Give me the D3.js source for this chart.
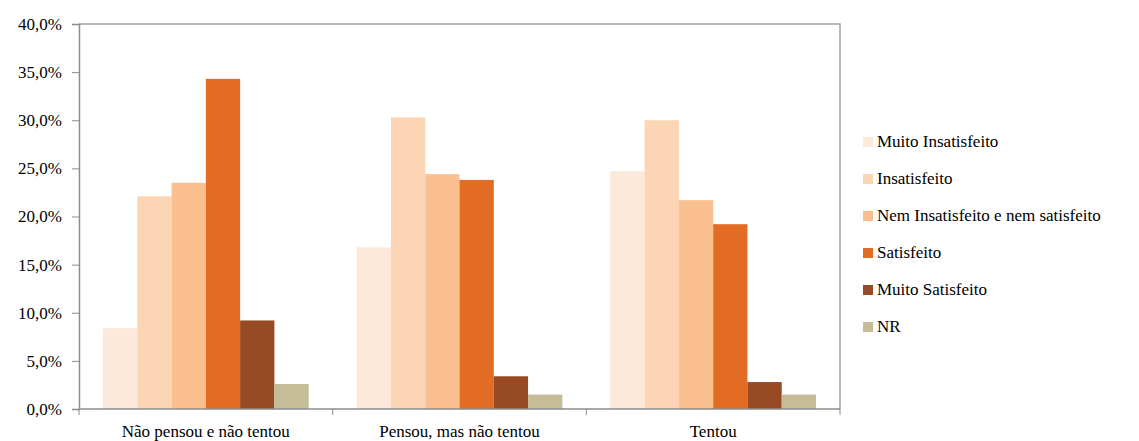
<!DOCTYPE html>
<html>
<head>
<meta charset="utf-8">
<script src="https://cdn.jsdelivr.net/npm/d3@7"></script>
<style>
  body { margin: 0; background: #fff; }
</style>
</head>
<body>
<div id="container"></div>
<script>
const width = 1139;
const height = 441;
const margin = { top: 24, left: 79, right: 299, bottom: 32 };
const fontFamily = '"Liberation Serif"';

// categories on the x axis
const groups = ["Não pensou e não tentou", "Pensou, mas não tentou", "Tentou"];

// series (legend order)
const series = [
  "Muito Insatisfeito",
  "Insatisfeito",
  "Nem Insatisfeito e nem satisfeito",
  "Satisfeito",
  "Muito Satisfeito",
  "NR",
];

const colours = ["#fde9d9", "#fcd5b5", "#fac090", "#e36c25", "#974a23", "#c4bd97"];

// values in %, one array per series, in group order
const muitoInsatisfeito = [8.4, 16.8, 24.7];
const insatisfeito = [22.1, 30.3, 30.0];
const nemNem = [23.5, 24.4, 21.7];
const satisfeito = [34.3, 23.8, 19.2];
const muitoSatisfeito = [9.2, 3.4, 2.8];
const nr = [2.6, 1.5, 1.5];

const values = [muitoInsatisfeito, insatisfeito, nemNem, satisfeito, muitoSatisfeito, nr];

const yTicks = [0, 5, 10, 15, 20, 25, 30, 35, 40];

const svg = d3
  .select("#container")
  .append("svg")
  .attr("width", width)
  .attr("height", height);

const plotW = width - margin.left - margin.right;
const plotH = height - margin.top - margin.bottom;

const g = svg.append("g").attr("transform", `translate(${margin.left},${margin.top})`);

const x0 = d3.scaleBand().domain(groups).range([0, plotW]);
const x1 = d3.scaleBand().domain(series).range([0, x0.bandwidth()]).paddingOuter(0.7);
const y = d3.scaleLinear().domain([0, 40]).range([plotH, 0]);
const colour = d3.scaleOrdinal().domain(series).range(colours);

// plot frame (top and right)
g.append("path")
  .attr("d", `M0,0H${plotW}V${plotH}`)
  .attr("fill", "none")
  .attr("stroke", "#a0a0a0")
  .attr("stroke-width", 1.5);

// bars
const rows = [];
series.forEach((s, i) => {
  groups.forEach((grp, j) => rows.push({ series: s, group: grp, value: values[i][j] }));
});

g.selectAll("rect.bar")
  .data(rows)
  .enter()
  .append("rect")
  .attr("class", "bar")
  .attr("x", (d) => x0(d.group) + x1(d.series))
  .attr("y", (d) => y(d.value))
  .attr("width", x1.bandwidth())
  .attr("height", (d) => plotH - y(d.value))
  .attr("fill", (d) => colour(d.series));

// y axis
const yAxis = g
  .append("g")
  .call(
    d3.axisLeft(y)
      .tickValues(yTicks)
      .tickSize(7)
      .tickPadding(10)
      .tickFormat((d) => d.toFixed(1).replace(".", ",") + "%")
  );
yAxis.select(".domain").attr("stroke", "#8c8c8c").attr("stroke-width", 1.5);
yAxis.selectAll(".tick line").attr("stroke", "#8c8c8c");
yAxis.selectAll("text")
  .attr("fill", "#000")
  .style("font-family", fontFamily)
  .style("font-size", "17px");

// x axis: ticks at category boundaries
const xAxis = g.append("g").attr("transform", `translate(0,${plotH})`);
xAxis.append("line")
  .attr("x1", 0).attr("x2", plotW)
  .attr("stroke", "#8c8c8c").attr("stroke-width", 1.5);
xAxis.selectAll("line.tick")
  .data(groups.concat([null]))
  .enter()
  .append("line")
  .attr("class", "tick")
  .attr("x1", (d) => (d ? x0(d) : plotW))
  .attr("x2", (d) => (d ? x0(d) : plotW))
  .attr("y1", 0)
  .attr("y2", 6)
  .attr("stroke", "#8c8c8c");
xAxis.selectAll("text")
  .data(groups)
  .enter()
  .append("text")
  .attr("x", (d) => x0(d) + x0.bandwidth() / 2)
  .attr("y", 28)
  .attr("text-anchor", "middle")
  .style("font-family", fontFamily)
  .style("font-size", "17px")
  .text((d) => d);

// legend
const legend = svg.append("g").attr("transform", "translate(863,142)");
const item = legend
  .selectAll("g")
  .data(series)
  .enter()
  .append("g")
  .attr("transform", (d, i) => `translate(0,${i * 37})`);
item.append("rect")
  .attr("x", 0).attr("y", -5)
  .attr("width", 10).attr("height", 10)
  .attr("fill", (d) => colour(d));
item.append("text")
  .attr("x", 14)
  .attr("y", 5)
  .style("font-family", fontFamily)
  .style("font-size", "17px")
  .text((d) => d);
</script>
</body>
</html>
